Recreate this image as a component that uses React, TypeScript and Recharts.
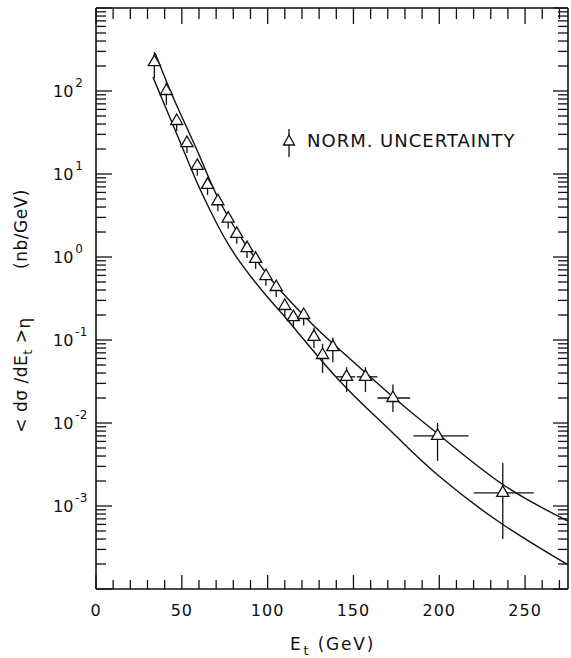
import React from 'react';
import { ComposedChart, Line, Scatter, XAxis, YAxis, ZAxis, ErrorBar, Customized } from 'recharts';

// measured points
const energy = [34, 41, 47, 53, 59, 65, 71, 77, 82, 88, 93, 99, 105, 110, 115, 121, 127, 132, 138, 146, 157, 173, 199, 237];
const xsec = [223, 100, 43.5, 23.6, 12.5, 7.4, 4.7, 2.9, 1.9, 1.28, 0.95, 0.59, 0.435, 0.257, 0.189, 0.2, 0.109, 0.066, 0.082, 0.036, 0.036, 0.02, 0.007, 0.00144];
const xsecLow = [143, 68, 33, 17.9, 9.5, 5.6, 3.56, 2.2, 1.44, 0.97, 0.72, 0.45, 0.33, 0.19, 0.14, 0.15, 0.08, 0.04, 0.054, 0.0236, 0.0236, 0.0136, 0.0035, 0.0004];
const xsecHigh = [295, 128, 50, 27, 14.4, 8.5, 5.4, 3.3, 2.2, 1.47, 1.09, 0.68, 0.5, 0.3, 0.22, 0.24, 0.14, 0.09, 0.107, 0.047, 0.047, 0.029, 0.01, 0.0033];
const energyLow = [34, 41, 47, 53, 59, 65, 71, 77, 82, 88, 93, 99, 105, 110, 115, 121, 127, 132, 138, 140, 152, 164, 185, 220];
const energyHigh = [34, 41, 47, 53, 59, 65, 71, 77, 82, 88, 93, 99, 105, 110, 115, 121, 127, 132, 138, 151, 164, 183, 217, 255];

// theory curves
const upperE = [34.4, 41.4, 49, 60.6, 71.1, 83.9, 95.6, 107.2, 124.7, 142.2, 177.2, 199.3, 236.6, 275];
const upperY = [287, 125, 54.3, 16, 5.14, 1.79, 0.8, 0.4, 0.165, 0.0759, 0.0174, 0.00736, 0.00184, 0.000659];
const lowerE = [33.2, 40.2, 49, 57.7, 66.4, 81, 101.4, 113.1, 140.4, 163.8, 177.2, 200.5, 236.6, 275];
const lowerY = [147, 65.9, 24.3, 8.96, 3.68, 1.06, 0.303, 0.16, 0.0348, 0.0115, 0.00624, 0.00223, 0.000607, 0.000195];

// axes
const xTicks = [0, 10, 20, 30, 40, 50, 60, 70, 80, 90, 100, 110, 120, 130, 140, 150, 160, 170, 180, 190, 200, 210, 220, 230, 240, 250, 260, 270];
const decades = [-4, -3, -2, -1, 0, 1, 2];
const mantissas = [1, 2, 3, 4, 5, 6, 7, 8, 9];
const labelledDecades = [-3, -2, -1, 0, 1, 2];

const yTicks = decades.flatMap(d => mantissas.map(m => m * Math.pow(10, d))).concat([1000]);

const points = energy.map((x, i) => ({
  x,
  y: xsec[i],
  ey: [xsec[i] - xsecLow[i], xsecHigh[i] - xsec[i]],
  ex: [x - energyLow[i], energyHigh[i] - x],
}));
const upper = upperE.map((x, i) => ({ x, y: upperY[i] }));
const lower = lowerE.map((x, i) => ({ x, y: lowerY[i] }));

const FONT = '"DejaVu Sans", sans-serif';
const INK = '#111';

const decadeOf = (v: number) => {
  const l = Math.log10(v);
  return Math.abs(l - Math.round(l)) < 1e-6 ? Math.round(l) : null;
};

const BottomTick = (props: any) => {
  const { x, y, payload } = props;
  const v = payload.value;
  const major = v % 50 === 0;
  return (
    <g>
      <line x1={x} x2={x} y1={y} y2={y - (major ? 14 : 9)} stroke={INK} strokeWidth={1.3} />
      {major && (
        <text x={x} y={y + 27} textAnchor="middle" fontFamily={FONT} fontSize={16} letterSpacing={1} fill={INK}>
          {v}
        </text>
      )}
    </g>
  );
};

const TopTick = (props: any) => {
  const { x, y, payload } = props;
  const major = payload.value % 50 === 0;
  return <line x1={x} x2={x} y1={y} y2={y + (major ? 16 : 11)} stroke={INK} strokeWidth={1.3} />;
};

const LeftTick = (props: any) => {
  const { x, y, payload } = props;
  const d = decadeOf(payload.value);
  const major = d !== null;
  return (
    <g>
      <line x1={x} x2={x + (major ? 16 : 10)} y1={y} y2={y} stroke={INK} strokeWidth={1.3} />
      {major && labelledDecades.includes(d as number) && (
        <text x={x - 43} y={y + 6} fontFamily={FONT} fontSize={16} fill={INK}>
          10
          <tspan dx={2} dy={-10} fontSize={12}>
            {d! < 0 ? `-${Math.abs(d!)}` : `${d}`}
          </tspan>
        </text>
      )}
    </g>
  );
};

const RightTick = (props: any) => {
  const { x, y, payload } = props;
  const major = decadeOf(payload.value) !== null;
  return <line x1={x} x2={x - (major ? 15 : 10)} y1={y} y2={y} stroke={INK} strokeWidth={1.3} />;
};

const Annotations = () => (
  <g fill={INK} fontFamily={FONT}>
    {/* legend */}
    <line x1={289} x2={289} y1={129} y2={157} stroke={INK} strokeWidth={1.3} />
    <path d="M283.5,145 L294.5,145 L289,135 Z" fill="#fff" stroke={INK} strokeWidth={1.3} />
    <text x={307} y={147} fontSize={18} letterSpacing={1}>NORM. UNCERTAINTY</text>

    {/* x label */}
    <text x={290} y={650} fontSize={17} letterSpacing={1.8}>
      E
      <tspan dx={1} dy={5} fontSize={13}>t</tspan>
      <tspan dy={-5}>{' (GeV)'}</tspan>
    </text>

    {/* y label */}
    <g transform="rotate(-90)">
      <text x={-375} y={27} textAnchor="middle" fontSize={17} letterSpacing={0.5}>
        {'< dσ /dE'}
        <tspan dy={5} fontSize={13}>t</tspan>
        <tspan dy={-5}>{' >'}</tspan>
        <tspan dy={3}>η</tspan>
      </text>
      <text x={-229} y={27} textAnchor="middle" fontSize={17} letterSpacing={0.5}>
        (nb/GeV)
      </text>
    </g>
  </g>
);

export default function App() {
  return (
    <div style={{ width: 571, height: 658, background: '#fff' }}>
      <style>{'body{margin:0;background:#fff}'}</style>
      <ComposedChart width={571} height={658} margin={{ top: 7, right: 2, bottom: 0, left: 0 }}>
        <XAxis
          dataKey="x"
          type="number"
          domain={[0, 275]}
          ticks={xTicks}
          interval={0}
          allowDataOverflow
          height={69}
          tickSize={0}
          tickMargin={0}
          tickLine={false}
          axisLine={{ stroke: INK, strokeWidth: 1.6 }}
          tick={(p: any) => <BottomTick {...p} />}
        />
        <XAxis
          xAxisId="top"
          dataKey="x"
          orientation="top"
          type="number"
          domain={[0, 275]}
          ticks={xTicks}
          interval={0}
          allowDataOverflow
          height={1}
          tickSize={0}
          tickMargin={0}
          tickLine={false}
          axisLine={{ stroke: INK, strokeWidth: 1.6 }}
          tick={(p: any) => <TopTick {...p} />}
        />
        <YAxis
          dataKey="y"
          type="number"
          scale="log"
          domain={[1e-4, 1e3]}
          ticks={yTicks}
          interval={0}
          allowDataOverflow
          width={96}
          tickSize={0}
          tickMargin={0}
          tickLine={false}
          axisLine={{ stroke: INK, strokeWidth: 1.6 }}
          tick={(p: any) => <LeftTick {...p} />}
        />
        <YAxis
          yAxisId="right"
          dataKey="y"
          orientation="right"
          type="number"
          scale="log"
          domain={[1e-4, 1e3]}
          ticks={yTicks}
          interval={0}
          allowDataOverflow
          width={1}
          tickSize={0}
          tickMargin={0}
          tickLine={false}
          axisLine={{ stroke: INK, strokeWidth: 1.6 }}
          tick={(p: any) => <RightTick {...p} />}
        />
        <ZAxis range={[64, 64]} />
        <Line
          data={upper}
          dataKey="y"
          xAxisId="top"
          yAxisId="right"
          stroke="none"
          dot={false}
          activeDot={false}
          legendType="none"
          isAnimationActive={false}
        />
        <Line data={upper} dataKey="y" type="natural" dot={false} stroke={INK} strokeWidth={1.4} isAnimationActive={false} />
        <Line data={lower} dataKey="y" type="natural" dot={false} stroke={INK} strokeWidth={1.4} isAnimationActive={false} />
        <Scatter data={points} shape="triangle" fill="#fff" stroke={INK} strokeWidth={1.3} isAnimationActive={false}>
          <ErrorBar dataKey="ey" direction="y" width={0} stroke={INK} strokeWidth={1.3} isAnimationActive={false} />
          <ErrorBar dataKey="ex" direction="x" width={0} stroke={INK} strokeWidth={1.3} isAnimationActive={false} />
        </Scatter>
        <Customized component={Annotations} />
      </ComposedChart>
    </div>
  );
}
